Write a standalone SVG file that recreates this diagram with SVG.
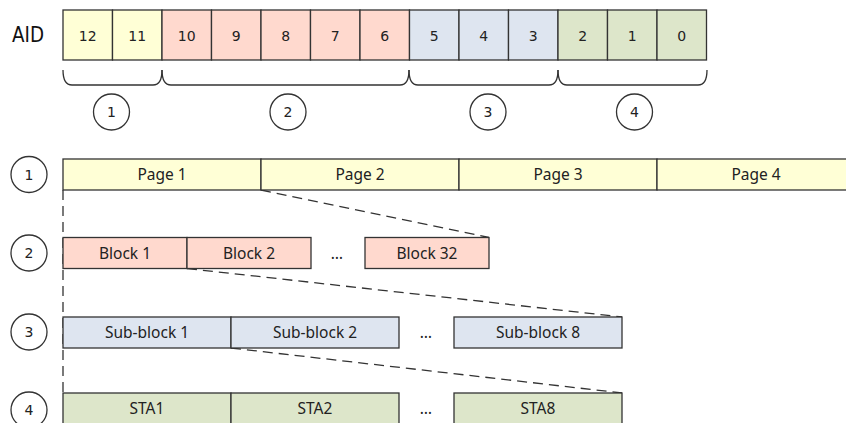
<svg xmlns="http://www.w3.org/2000/svg" width="846" height="423" viewBox="0 0 846 423">
<style>
.b{stroke:#333;stroke-width:1.3}
.y{fill:#FFFFD6}.p{fill:#FFD9CE}.u{fill:#DEE5F0}.g{fill:#DDE6CA}
.d{font-family:"DejaVu Sans",sans-serif;font-size:14px;fill:#222;text-anchor:middle}
.t{font-family:"Noto Sans","Open Sans",sans-serif;font-size:15.5px;fill:#222;text-anchor:middle}
.c{fill:#fff;stroke:#333;stroke-width:1.3}
.br{fill:none;stroke:#333;stroke-width:1.3}
.dash{fill:none;stroke:#333;stroke-width:1.3;stroke-dasharray:10 6}
</style>
<rect width="846" height="423" fill="#fff"/>
<text x="28" y="42.3" font-family="DejaVu Sans,sans-serif" font-size="21" fill="#111" text-anchor="middle" textLength="32" lengthAdjust="spacingAndGlyphs">AID</text>

<g id="aid">
<rect class="b y" x="63" y="10" width="49.5" height="50"/>
<rect class="b y" x="112.5" y="10" width="49.5" height="50"/>
<rect class="b p" x="162" y="10" width="49.5" height="50"/>
<rect class="b p" x="211.5" y="10" width="49.5" height="50"/>
<rect class="b p" x="261" y="10" width="49.5" height="50"/>
<rect class="b p" x="310.5" y="10" width="49.5" height="50"/>
<rect class="b p" x="360" y="10" width="49.5" height="50"/>
<rect class="b u" x="409.5" y="10" width="49.5" height="50"/>
<rect class="b u" x="459" y="10" width="49.5" height="50"/>
<rect class="b u" x="508.5" y="10" width="49.5" height="50"/>
<rect class="b g" x="558" y="10" width="49.5" height="50"/>
<rect class="b g" x="607.5" y="10" width="49.5" height="50"/>
<rect class="b g" x="657" y="10" width="49.5" height="50"/>
<text class="d" x="87.75" y="40.5">12</text>
<text class="d" x="137.25" y="40.5">11</text>
<text class="d" x="186.75" y="40.5">10</text>
<text class="d" x="236.25" y="40.5">9</text>
<text class="d" x="285.75" y="40.5">8</text>
<text class="d" x="335.25" y="40.5">7</text>
<text class="d" x="384.75" y="40.5">6</text>
<text class="d" x="434.25" y="40.5">5</text>
<text class="d" x="483.75" y="40.5">4</text>
<text class="d" x="533.25" y="40.5">3</text>
<text class="d" x="582.75" y="40.5">2</text>
<text class="d" x="632.25" y="40.5">1</text>
<text class="d" x="681.75" y="40.5">0</text>
</g>

<g id="braces">
<path class="br" d="M63,70 Q63,85 72,85 H153 Q162,85 162,70"/>
<path class="br" d="M162,70 Q162,85 171,85 H400 Q409,85 409,70"/>
<path class="br" d="M409,70 Q409,85 418,85 H549 Q558,85 558,70"/>
<path class="br" d="M558,70 Q558,85 567,85 H698 Q707,85 707,70"/>
</g>

<g id="brace-labels">
<circle class="c" cx="111.5" cy="112" r="18"/><text class="d" x="111.5" y="117">1</text>
<circle class="c" cx="288" cy="112" r="18"/><text class="d" x="288" y="117">2</text>
<circle class="c" cx="488" cy="112" r="18"/><text class="d" x="488" y="117">3</text>
<circle class="c" cx="634.5" cy="112" r="18"/><text class="d" x="634.5" y="117">4</text>
</g>

<g id="row-labels">
<circle class="c" cx="29" cy="174.5" r="18"/><text class="d" x="29" y="179.5">1</text>
<circle class="c" cx="29" cy="253" r="18"/><text class="d" x="29" y="258">2</text>
<circle class="c" cx="29" cy="332" r="18"/><text class="d" x="29" y="337">3</text>
<circle class="c" cx="29" cy="410" r="18"/><text class="d" x="29" y="415">4</text>
</g>

<g id="connectors">
<line class="dash" x1="63" y1="190" x2="63" y2="393"/>
<line class="dash" x1="261" y1="190" x2="489" y2="237.5"/>
<line class="dash" x1="187" y1="268.5" x2="622" y2="317"/>
<line class="dash" x1="231" y1="348" x2="622" y2="393"/>
</g>

<g id="pages">
<rect class="b y" x="63" y="159" width="198" height="31"/>
<rect class="b y" x="261" y="159" width="198" height="31"/>
<rect class="b y" x="459" y="159" width="198" height="31"/>
<rect class="b y" x="657" y="159" width="198" height="31"/>
<text class="t" x="162" y="180">Page 1</text>
<text class="t" x="360" y="180">Page 2</text>
<text class="t" x="558" y="180">Page 3</text>
<text class="t" x="756" y="180">Page 4</text>
</g>

<g id="blocks">
<rect class="b p" x="63" y="237.5" width="124" height="31"/>
<rect class="b p" x="187" y="237.5" width="124" height="31"/>
<rect class="b p" x="365" y="237.5" width="124" height="31"/>
<text class="t" x="125" y="258.5">Block 1</text>
<text class="t" x="249" y="258.5">Block 2</text>
<text class="t" x="337" y="258.5">…</text>
<text class="t" x="427" y="258.5">Block 32</text>
</g>

<g id="subblocks">
<rect class="b u" x="63" y="317" width="168" height="31"/>
<rect class="b u" x="231" y="317" width="168" height="31"/>
<rect class="b u" x="454" y="317" width="168" height="31"/>
<text class="t" x="147" y="338">Sub-block 1</text>
<text class="t" x="315" y="338">Sub-block 2</text>
<text class="t" x="426" y="338">…</text>
<text class="t" x="538" y="338">Sub-block 8</text>
</g>

<g id="stas">
<rect class="b g" x="63" y="393" width="168" height="31"/>
<rect class="b g" x="231" y="393" width="168" height="31"/>
<rect class="b g" x="454" y="393" width="168" height="31"/>
<text class="t" x="147" y="414">STA1</text>
<text class="t" x="315" y="414">STA2</text>
<text class="t" x="426" y="414">…</text>
<text class="t" x="538" y="414">STA8</text>
</g>
</svg>
